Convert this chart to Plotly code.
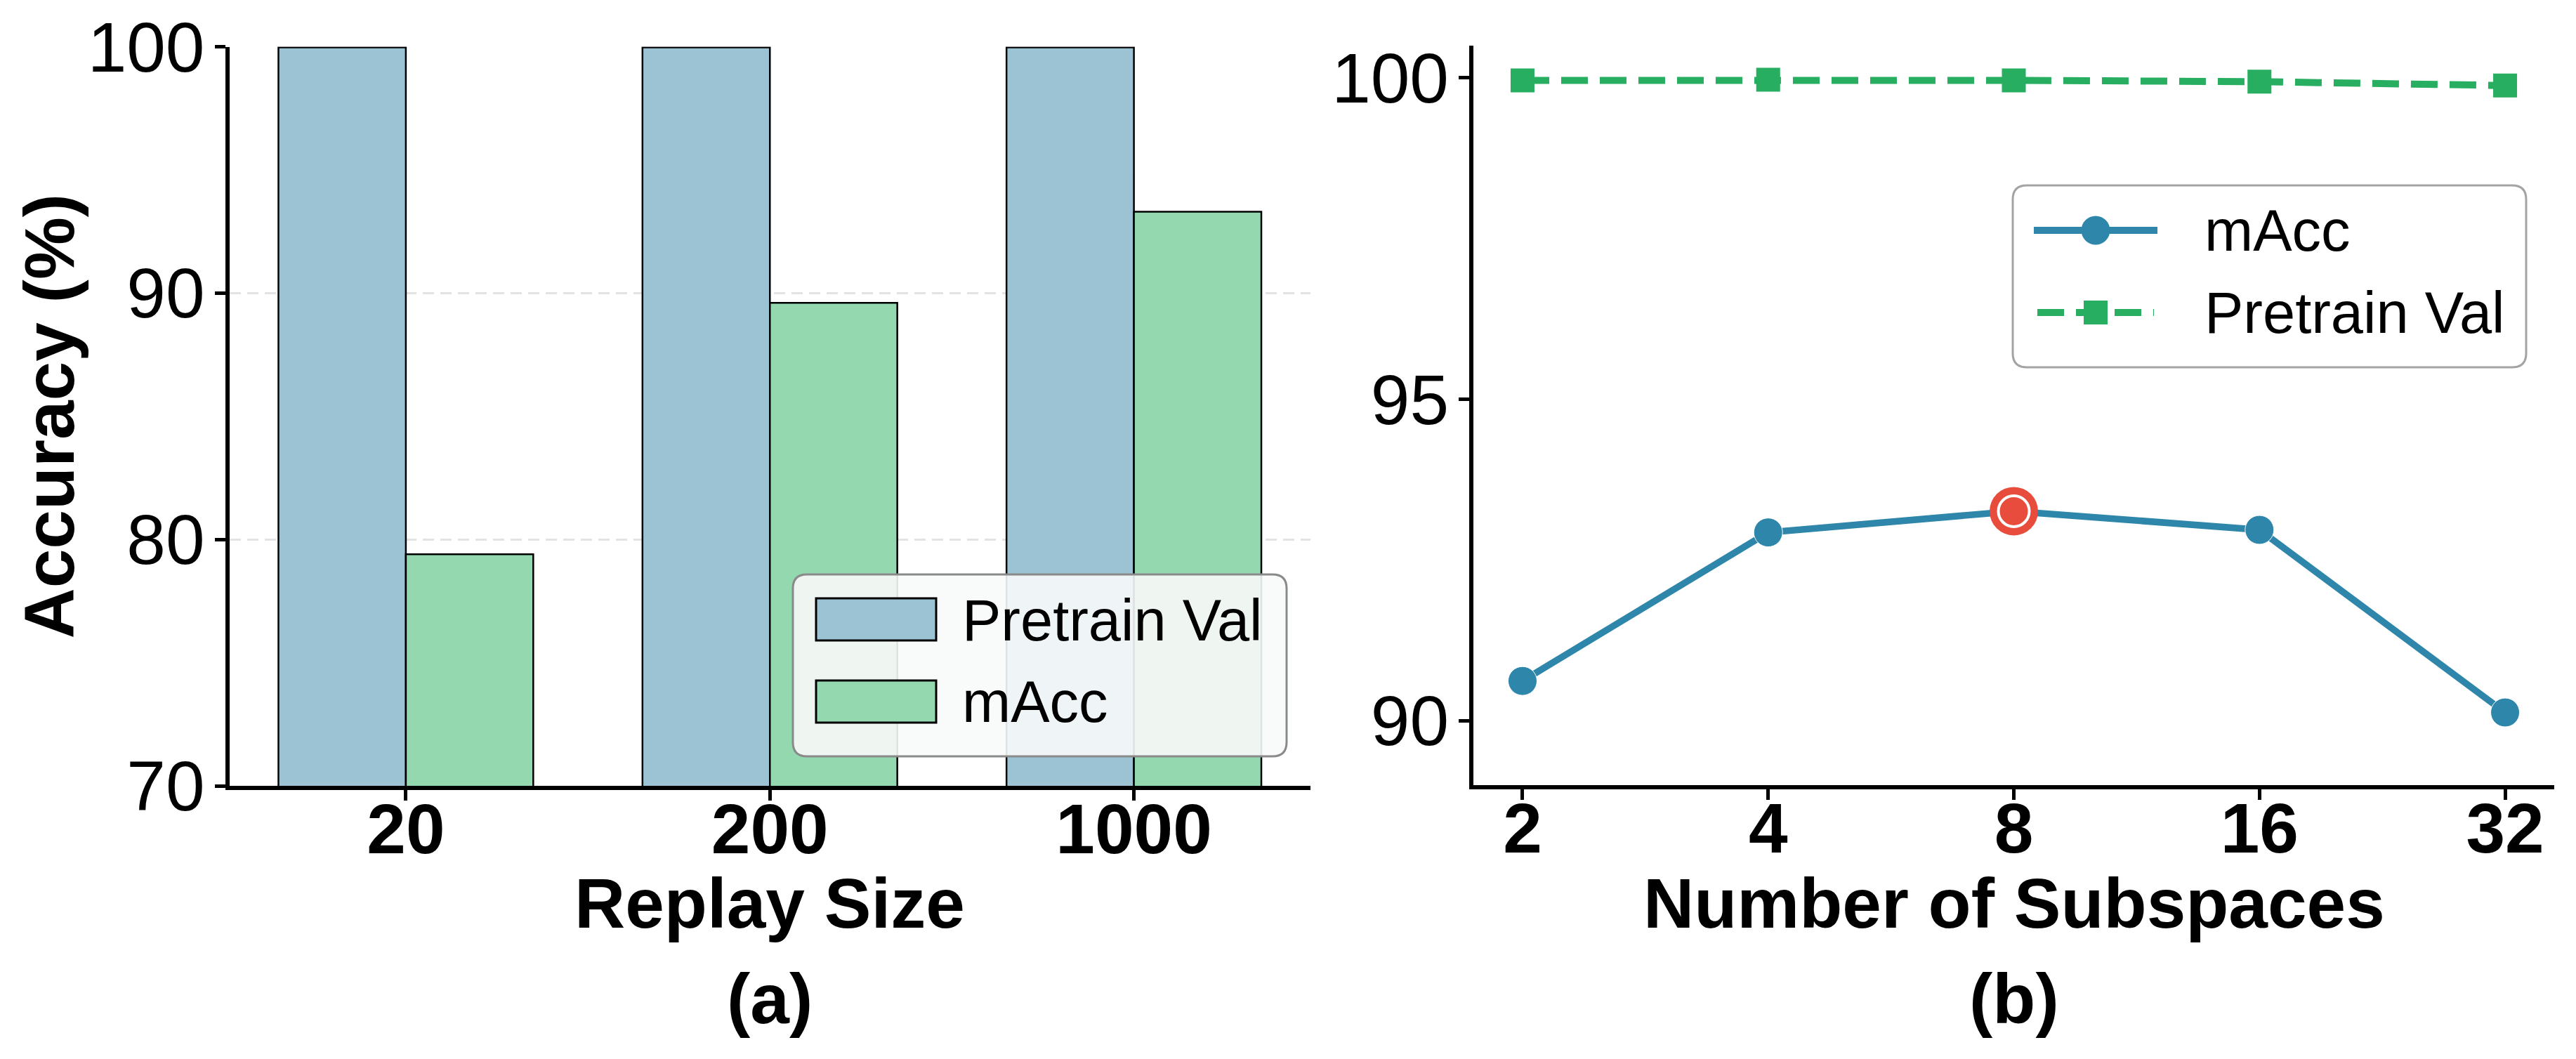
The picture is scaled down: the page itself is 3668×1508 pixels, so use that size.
import plotly.graph_objects as go

# ---------------- data ----------------
replay_sizes = ["20", "200", "1000"]
bar_pretrain_val = [99.97, 99.97, 99.97]
bar_macc = [79.4, 89.6, 93.3]

subspaces = ["2", "4", "8", "16", "32"]
line_macc = [90.62, 92.93, 93.26, 92.97, 90.13]
line_pretrain_val = [99.96, 99.97, 99.96, 99.94, 99.88]

left_yticks = [70, 80, 90, 100]
right_yticks = [90, 95, 100]

# ---------------- style ----------------
W, H = 3668, 1508
FONT = "Liberation Sans"
C_BAR_PRE = "#9BC3D4"
C_BAR_MACC = "#94D8B0"
C_LINE_MACC = "#2E86AB"
C_LINE_PRE = "#27AE60"
C_HIGHLIGHT = "#E74C3C"


def px(x):
    return x / W


def py(y):
    return 1 - y / H


fig = go.Figure()

# ---- left: bars ----
fig.add_trace(go.Bar(
    x=replay_sizes, y=bar_pretrain_val, name="Pretrain Val",
    marker=dict(color=C_BAR_PRE, line=dict(color="black", width=2.5)),
    xaxis="x", yaxis="y", showlegend=False))
fig.add_trace(go.Bar(
    x=replay_sizes, y=bar_macc, name="mAcc",
    marker=dict(color=C_BAR_MACC, line=dict(color="black", width=2.5)),
    xaxis="x", yaxis="y", showlegend=False))

# ---- right: lines ----
fig.add_trace(go.Scatter(
    x=subspaces, y=line_pretrain_val, name="Pretrain Val", mode="lines+markers",
    line=dict(color=C_LINE_PRE, width=10, dash="38px,17px"),
    marker=dict(symbol="square", size=34, color=C_LINE_PRE, line=dict(width=0)),
    xaxis="x2", yaxis="y2", showlegend=False, cliponaxis=False))
fig.add_trace(go.Scatter(
    x=subspaces, y=line_macc, name="mAcc", mode="lines+markers",
    line=dict(color=C_LINE_MACC, width=9.5),
    marker=dict(symbol="circle", size=41, color=C_LINE_MACC, line=dict(color="white", width=1)),
    xaxis="x2", yaxis="y2", showlegend=False, cliponaxis=False))

best = max(range(len(line_macc)), key=lambda i: line_macc[i])
fig.add_trace(go.Scatter(
    x=[subspaces[best]], y=[line_macc[best]], mode="markers", name="best",
    marker=dict(symbol="circle", size=69, color=C_HIGHLIGHT, line=dict(width=0)),
    xaxis="x2", yaxis="y2", showlegend=False, cliponaxis=False, hoverinfo="skip"))
fig.add_trace(go.Scatter(
    x=[subspaces[best]], y=[line_macc[best]], mode="markers", name="best",
    marker=dict(symbol="circle", size=44, color=C_HIGHLIGHT, line=dict(color="white", width=4)),
    xaxis="x2", yaxis="y2", showlegend=False, cliponaxis=False, hoverinfo="skip"))

tick_reg = dict(family=FONT, size=100, color="black")
tick_bold = dict(family=FONT, size=100, color="black", weight="bold")

axis_common = dict(showline=True, linecolor="black", linewidth=6, ticks="outside",
                   ticklen=15, tickwidth=5, tickcolor="black", zeroline=False,
                   automargin=False)

fig.update_layout(
    width=W, height=H,
    margin=dict(l=0, r=0, t=0, b=0, autoexpand=False),
    paper_bgcolor="white", plot_bgcolor="white",
    barmode="group", bargap=0.3, bargroupgap=0,
    showlegend=False,
    xaxis=dict(domain=[px(326.5), px(1866)], type="category", range=[-0.485, 2.485],
               showgrid=False, tickfont=tick_bold, anchor="y", ticklabelstandoff=-45,
               **axis_common),
    yaxis=dict(domain=[py(1119), py(66.5)], range=[70, 100], tickvals=left_yticks,
               showgrid=True, gridcolor="#e3e3e3", gridwidth=2.5, griddash="16px,9px",
               tickfont=tick_reg, anchor="x", ticklabelstandoff=-6, **axis_common),
    xaxis2=dict(domain=[px(2098), px(3637)], type="category", range=[-0.2, 4.2],
                showgrid=False, tickfont=tick_bold, anchor="y2", ticklabelstandoff=-45,
                **axis_common),
    yaxis2=dict(domain=[py(1118), py(65)], range=[89, 100.5], tickvals=right_yticks,
                showgrid=False, tickfont=tick_reg, anchor="x2", ticklabelstandoff=-6,
                **axis_common),
)

ann_bold = dict(family=FONT, size=100, color="black", weight="bold")
annotations = [
    dict(text="Replay Size", x=px(1096), y=py(1286), xref="paper", yref="paper",
         xanchor="center", yanchor="middle", showarrow=False, font=ann_bold),
    dict(text="Number of Subspaces", x=px(2868), y=py(1286), xref="paper", yref="paper",
         xanchor="center", yanchor="middle", showarrow=False, font=ann_bold),
    dict(text="(a)", x=px(1096), y=py(1422), xref="paper", yref="paper",
         xanchor="center", yanchor="middle", showarrow=False, font=ann_bold),
    dict(text="(b)", x=px(2868), y=py(1422), xref="paper", yref="paper",
         xanchor="center", yanchor="middle", showarrow=False, font=ann_bold),
    dict(text="Accuracy (%)", x=px(69.5), y=py(593), xref="paper", yref="paper",
         xanchor="center", yanchor="middle", textangle=-90, showarrow=False, font=ann_bold),
]

leg_font = dict(family=FONT, size=83, color="black")


def rounded_box(x0, y0, x1, y1, r, fill, edge):
    rx, ry = r / W, r / H
    X0, X1 = px(x0), px(x1)
    Y0, Y1 = py(y0), py(y1)  # Y0 is top (larger)
    path = (f"M {X0+rx},{Y0} L {X1-rx},{Y0} Q {X1},{Y0} {X1},{Y0-ry} "
            f"L {X1},{Y1+ry} Q {X1},{Y1} {X1-rx},{Y1} "
            f"L {X0+rx},{Y1} Q {X0},{Y1} {X0},{Y1+ry} "
            f"L {X0},{Y0-ry} Q {X0},{Y0} {X0+rx},{Y0} Z")
    return dict(type="path", path=path, xref="paper", yref="paper", layer="above",
                fillcolor=fill, line=dict(color=edge, width=3))


shapes = []
# left legend (bars)
shapes.append(rounded_box(1129, 818, 1832, 1077, 20, "rgba(248,249,250,0.9)", "#8a8a8a"))
left_items = [("Pretrain Val", C_BAR_PRE, 852, 912, 883),
              ("mAcc", C_BAR_MACC, 969, 1029, 999)]
for label, col, t, b, mid in left_items:
    shapes.append(dict(type="rect", xref="paper", yref="paper", layer="above",
                       x0=px(1162), x1=px(1333), y0=py(b), y1=py(t),
                       fillcolor=col, line=dict(color="black", width=3)))
    annotations.append(dict(text=label, x=px(1368), y=py(mid), xref="paper", yref="paper",
                            xanchor="left", yanchor="middle", showarrow=False, font=leg_font))

# right legend (lines)
shapes.append(rounded_box(2866, 264, 3597, 523, 20, "rgba(255,255,255,0.9)", "#a3a3a3"))
shapes.append(dict(type="line", xref="paper", yref="paper", layer="above",
                   x0=px(2896), x1=px(3072), y0=py(328), y1=py(328),
                   line=dict(color=C_LINE_MACC, width=10)))
shapes.append(dict(type="circle", xref="paper", yref="paper", layer="above",
                   x0=px(2984 - 20.5), x1=px(2984 + 20.5), y0=py(328 + 20.5), y1=py(328 - 20.5),
                   fillcolor=C_LINE_MACC, line=dict(width=0)))
shapes.append(dict(type="line", xref="paper", yref="paper", layer="above",
                   x0=px(2901), x1=px(3067), y0=py(445), y1=py(445),
                   line=dict(color=C_LINE_PRE, width=10, dash="38px,17px")))
shapes.append(dict(type="rect", xref="paper", yref="paper", layer="above",
                   x0=px(2967), x1=px(3001), y0=py(462), y1=py(428),
                   fillcolor=C_LINE_PRE, line=dict(width=0)))
annotations.append(dict(text="mAcc", x=px(3137), y=py(329), xref="paper", yref="paper",
                        xanchor="left", yanchor="middle", showarrow=False, font=leg_font))
annotations.append(dict(text="Pretrain Val", x=px(3137), y=py(446), xref="paper", yref="paper",
                        xanchor="left", yanchor="middle", showarrow=False, font=leg_font))

fig.update_layout(annotations=annotations, shapes=shapes)

fig.write_html("out.html")
